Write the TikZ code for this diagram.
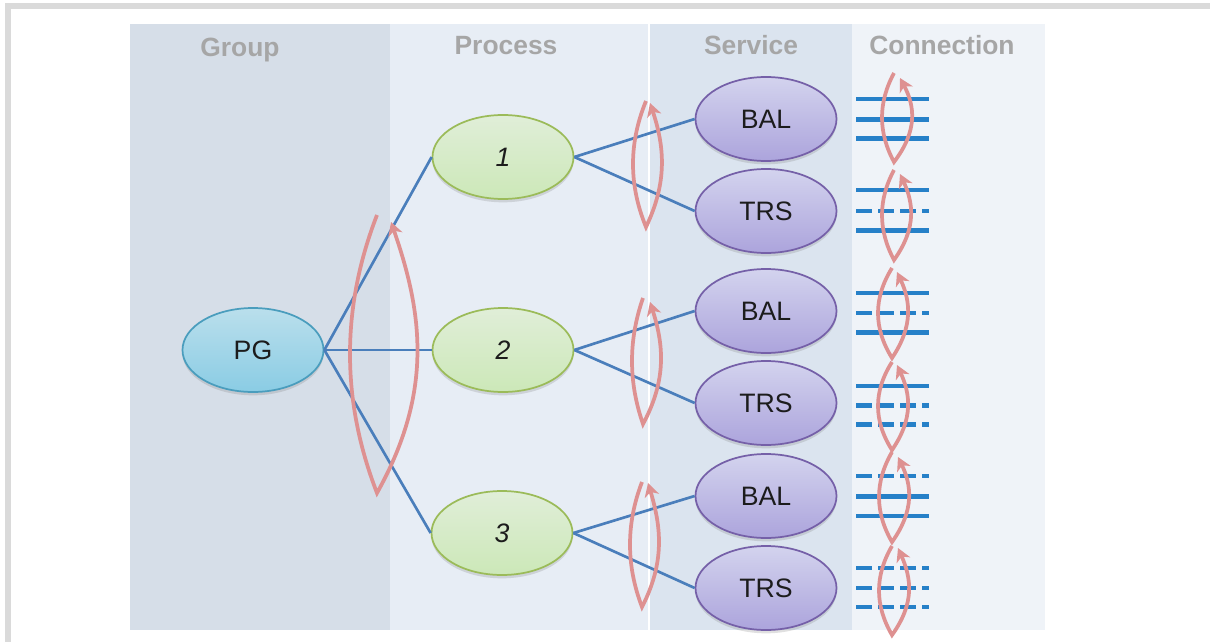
\documentclass[tikz,border=0pt]{standalone}
\usepackage{fontspec}
\setmainfont{Liberation Sans}
\usetikzlibrary{shapes.geometric,arrows.meta,shadows}

\definecolor{framegray}{HTML}{DADADA}
\definecolor{colgroup}{HTML}{D6DEE8}
\definecolor{colproc}{HTML}{E7EDF5}
\definecolor{colserv}{HTML}{DBE4EF}
\definecolor{colconn}{HTML}{EFF3F8}
\definecolor{headgray}{HTML}{A6A6A6}
\definecolor{linkblue}{HTML}{4A7EBB}
\definecolor{wireblue}{HTML}{2680C8}
\definecolor{looppink}{HTML}{DE9191}
\definecolor{pgtop}{HTML}{BADFEC}
\definecolor{pgbot}{HTML}{8ACCE4}
\definecolor{pgline}{HTML}{4A9DBD}
\definecolor{prtop}{HTML}{E0EED8}
\definecolor{prbot}{HTML}{CCE8B8}
\definecolor{prline}{HTML}{9BBB59}
\definecolor{svtop}{HTML}{D3D3EE}
\definecolor{svbot}{HTML}{ACA4DC}
\definecolor{svline}{HTML}{7560A8}
\definecolor{inktext}{HTML}{1C1C1C}

% lens-shaped loop: start (#1,#2), bottom y #3, arrow end (#4,#5),
% leftmost x #6, rightmost x #7
\newcommand\lensloop[7]{%
  \draw[loopline] (#1,#2)
    .. controls ({#1-(#1-#6)*4/3},{#2+(#3-#2)/3}) and ({#1-(#1-#6)*4/3},{#2+2*(#3-#2)/3}) .. (#1,#3)
    .. controls ({#1+(#7-#1)*1.36},{#3-(#3-#2)*0.36}) and ({#4+(#7-#4)*1.2},{#2+(#3-#2)*0.36}) .. (#4,#5);
}
% three connection wires at heights #1,#2,#3 with styles #4,#5,#6
\newcommand\wireset[6]{%
  \draw[wire,#4] (856,#1) -- (929,#1);
  \draw[wire,#5] (856,#2) -- (929,#2);
  \draw[wire,#6] (856,#3) -- (929,#3);
}

\begin{document}
\begin{tikzpicture}[x=0.75pt,y=-0.75pt,
  header/.style={font=\bfseries\fontsize{19.8pt}{23pt}\selectfont, text=headgray, anchor=base, inner sep=0},
  bubble/.style={ellipse, minimum width=105.75pt, minimum height=63pt, inner sep=0, line width=1.3pt,
     font=\fontsize{20pt}{23pt}\selectfont, text=inktext,
     drop shadow={shadow xshift=0pt, shadow yshift=-2.5pt, fill=black!55, opacity=0.22}},
  groupnode/.style={bubble, draw=pgline, top color=pgtop, bottom color=pgbot},
  procnode/.style={bubble, draw=prline, top color=prtop, bottom color=prbot, font=\itshape\fontsize{20pt}{23pt}\selectfont},
  servnode/.style={bubble, draw=svline, top color=svtop, bottom color=svbot},
  link/.style={draw=linkblue, line width=2pt},
  wire/.style={draw=wireblue, line width=3.4pt},
  brokenwire/.style={dash pattern=on 12pt off 4.5pt},
  loopline/.style={draw=looppink, line width=2.8pt, -{Stealth[length=10pt,width=11pt,inset=3pt]}}
]
\useasboundingbox (0,0) rectangle (1210,642);
\fill[white] (0,0) rectangle (1210,642);
\clip (0,0) rectangle (1210,642);

% outer frame
\draw[framegray, line width=4.5pt] (8,700) -- (8,6.5) -- (1300,6.5);

% column bands
\fill[colgroup] (130,24) rectangle (390,630);
\fill[colproc]  (390,24) rectangle (648,630);
\fill[colserv]  (650,24) rectangle (852,630);
\fill[colconn]  (852,24) rectangle (1045,630);

% column headings
\node[header] (hgroup) at (240,56.5) {Group};
\node[header] (hproc)  at (506,54.5) {Process};
\node[header] (hserv)  at (751,54.5) {Service};
\node[header] (hconn)  at (942,54.5) {Connection};

% nodes
\node[groupnode] (pg) at (253,350) {PG};
\node[procnode] (p1) at (503,157) {1};
\node[procnode] (p2) at (503,350) {2};
\node[procnode] (p3) at (502,533) {3};
\node[servnode] (b1) at (766,119) {BAL};
\node[servnode] (t1) at (766,211) {TRS};
\node[servnode] (b2) at (766,311) {BAL};
\node[servnode] (t2) at (766,403) {TRS};
\node[servnode] (b3) at (766,496) {BAL};
\node[servnode] (t3) at (766,588) {TRS};

% links
\draw[link] (pg.east) -- (p1.west);
\draw[link] (pg.east) -- (p2.west);
\draw[link] (pg.east) -- (p3.west);
\draw[link] (p1.east) -- (b1.west);
\draw[link] (p1.east) -- (t1.west);
\draw[link] (p2.east) -- (b2.west);
\draw[link] (p2.east) -- (t2.west);
\draw[link] (p3.east) -- (b3.west);
\draw[link] (p3.east) -- (t3.west);

% connection wires
\wireset{99}{119.5}{138.5}{}{}{}
\wireset{190}{211}{230.5}{}{brokenwire}{}
\wireset{293}{313}{332.5}{}{brokenwire}{}
\wireset{386}{405.5}{424.5}{}{brokenwire}{brokenwire}
\wireset{476}{496.5}{516}{brokenwire}{}{}
\wireset{568}{588}{607}{brokenwire}{brokenwire}{brokenwire}

% loops
\lensloop{377}{215}{493}{391}{222}{350}{418}
\lensloop{646}{101}{227}{650}{103}{633}{662}
\lensloop{643}{298}{424}{650}{302}{632}{661}
\lensloop{642}{482}{607}{648}{483}{630}{659}
\lensloop{894}{73}{162}{900}{78}{882}{912}
\lensloop{894}{170}{260}{900}{174}{882}{911}
\lensloop{892}{268}{358}{897}{272}{878}{908}
\lensloop{892}{362}{450}{897}{365}{878}{908}
\lensloop{892}{452}{542}{898}{457}{879}{909}
\lensloop{892}{546}{635}{898}{548}{879}{909}
\end{tikzpicture}
\end{document}
